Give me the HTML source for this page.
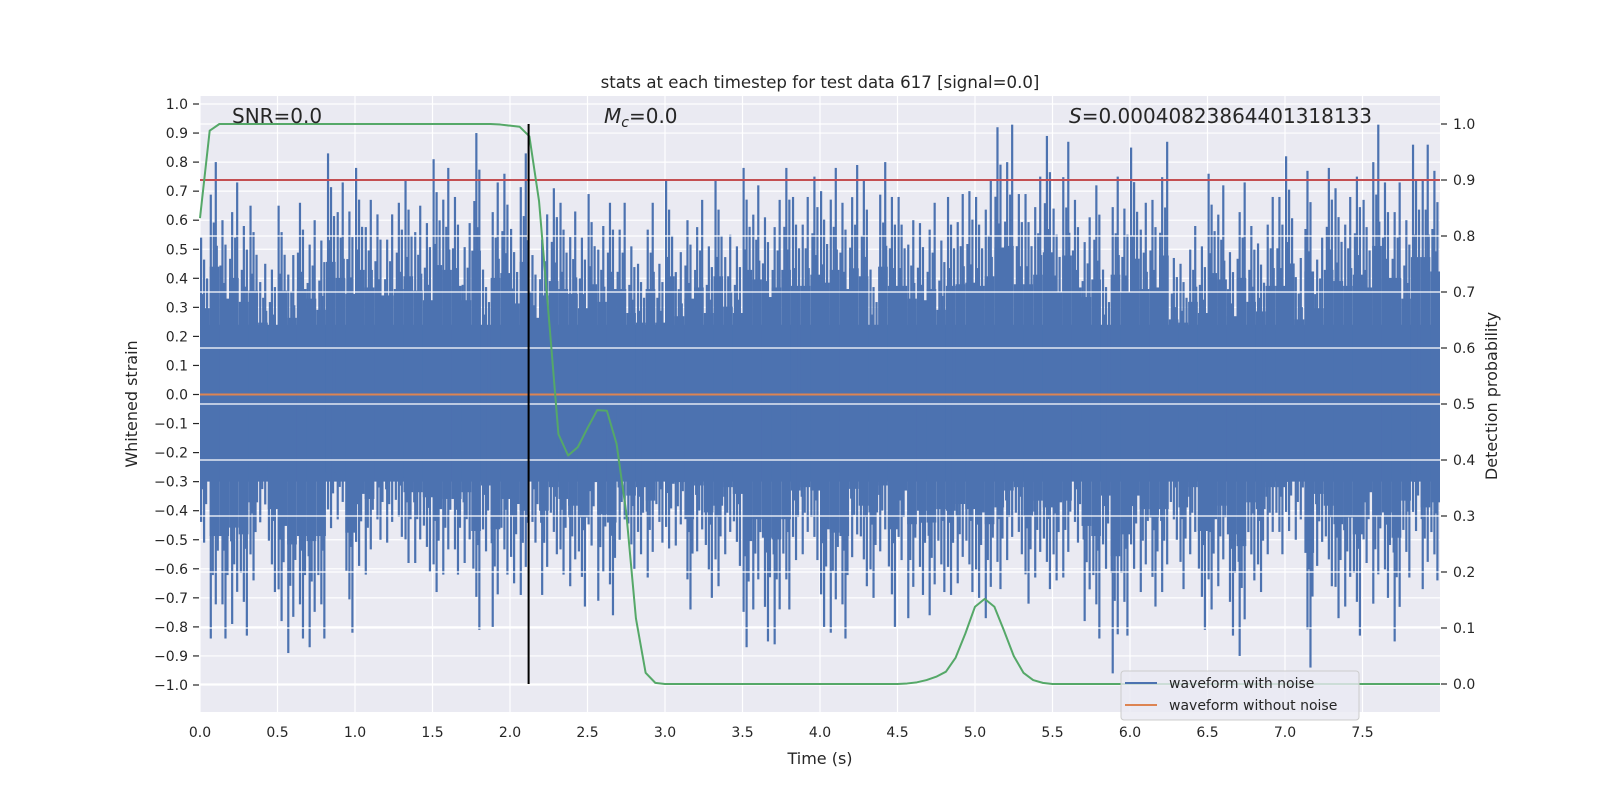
<!DOCTYPE html>
<html><head><meta charset="utf-8"><style>
html,body{margin:0;padding:0;background:#fff}
svg{display:block;font-family:"DejaVu Sans","Liberation Sans",sans-serif}
</style></head><body>
<svg id="chart" width="1600" height="800" viewBox="0 0 1600 800" xmlns="http://www.w3.org/2000/svg">
<rect x="0" y="0" width="1600" height="800" fill="#ffffff"/>
<rect x="200" y="96" width="1240" height="616" fill="#eaeaf2"/>
<g id="leftGrid"></g>
<g id="noise"></g>
<g id="clean"></g>
<g id="rightGrid"></g>
<g id="overlay"></g>
<g id="axes"></g>
<text x="820" y="88" text-anchor="middle" font-size="16.6" fill="#262626">stats at each timestep for test data 617 [signal=0.0]</text>
<text x="232" y="123" font-size="20" fill="#262626">SNR=0.0</text>
<text x="604" y="123" font-size="20" fill="#262626"><tspan font-style="italic">M</tspan><tspan font-style="italic" font-size="14" dy="4">c</tspan><tspan dy="-4">=0.0</tspan></text>
<text x="1069" y="123" font-size="20" fill="#262626"><tspan font-style="italic">S</tspan>=0.00040823864401318133</text>
<text x="820" y="764" text-anchor="middle" font-size="16" fill="#262626">Time (s)</text>
<text transform="translate(137,404) rotate(-90)" text-anchor="middle" font-size="16" fill="#262626">Whitened strain</text>
<text transform="translate(1497,396) rotate(-90)" text-anchor="middle" font-size="16" fill="#262626">Detection probability</text>
<g>
<rect x="1121" y="671" width="238" height="49" rx="3" fill="#eaeaf2" fill-opacity="0.8" stroke="#cccccc" stroke-width="1"/>
<line x1="1125" y1="683" x2="1157" y2="683" stroke="#4c72b0" stroke-width="2"/>
<text x="1169" y="688" font-size="14" fill="#262626">waveform with noise</text>
<line x1="1125" y1="705" x2="1157" y2="705" stroke="#dd8452" stroke-width="2"/>
<text x="1169" y="710" font-size="14" fill="#262626">waveform without noise</text>
</g>
</svg>
<script>
const binStep = 0.0625;
const upperPeaks = [.54,.80,.60,.73,.58,.65,.45,.43,.65,.48,.66,.60,.53,.83,.73,.63,.78,.67,.62,.62,.66,.74,.65,.59,.81,.78,.68,.59,.90,.43,.73,.76,.57,
.83,.48,.62,.71,.66,.63,.54,.69,.58,.66,.66,.51,.45,.66,.45,.74,.49,.60,.67,.51,.74,.55,.51,.78,.72,.61,.67,.78,.68,.68,.75,.70,
.78,.66,.79,.74,.43,.80,.68,.68,.60,.59,.66,.53,.68,.69,.70,.68,.74,.92,.93,.69,.69,.75,.89,.64,.87,.67,.61,.72,.43,.75,.64,.85,
.66,.67,.87,.47,.45,.58,.51,.76,.72,.49,.73,.58,.52,.68,.68,.82,.47,.77,.54,.78,.71,.68,.75,.67,.93,.73,.73,.60,.86,.86,.77];
const lowerPeaks = [-.51,-.84,-.84,-.79,-.83,-.64,-.44,-.68,-.78,-.89,-.84,-.87,-.84,-.46,-.43,-.82,-.59,-.62,-.50,-.51,-.49,-.58,-.58,-.61,-.68,-.62,-.62,-.58,-.81,-.54,-.80,-.62,-.65,
-.69,-.51,-.69,-.55,-.62,-.66,-.73,-.52,-.71,-.76,-.50,-.60,-.55,-.63,-.51,-.53,-.52,-.74,-.54,-.70,-.66,-.55,-.59,-.87,-.74,-.85,-.86,-.74,-.57,-.55,-.57,-.80,
-.82,-.84,-.56,-.66,-.70,-.54,-.80,-.57,-.77,-.69,-.76,-.68,-.69,-.65,-.68,-.70,-.77,-.67,-.57,-.55,-.72,-.63,-.67,-.64,-.63,-.51,-.78,-.84,-.60,-.96,-.83,-.60,
-.68,-.73,-.68,-.50,-.67,-.55,-.81,-.74,-.66,-.83,-.90,-.64,-.68,-.55,-.55,-.47,-.50,-.94,-.59,-.66,-.77,-.73,-.83,-.58,-.72,-.70,-.85,-.63,-.47,-.67,-.64];
const bodyTop = 0.24, bodyBottom = -0.30;
const detectionProb = [.832,.988,1,1,1,1,1,1,1,1,1,1,1,1,1,1,1,1,1,1,1,1,1,1,1,1,1,1,1,1,1,.999,.997,.995,.978,.862,.657,.446,.408,.423,.457,.489,.488,.429,.306,.117,.02,.002,
0,0,0,0,0,0,0,0,0,0,0,0,0,0,0,0,0,0,0,0,0,0,0,0,
0,.001,.003,.007,.013,.022,.047,.09,.138,.152,.138,.095,.05,.02,.007,.002,
0,0,0,0,0,0,0,0,0,0,0,0,0,0,0,0,0,0,0,0,0,0,0,0,0,0,0,0,0,0,0,0,0,0,0,0,0,0,0,0,0];
const threshold = 0.9;
const triggerTime = 2.12;
const xTicks = ["0.0","0.5","1.0","1.5","2.0","2.5","3.0","3.5","4.0","4.5","5.0","5.5","6.0","6.5","7.0","7.5"];
const leftTicks = ["1.0","0.9","0.8","0.7","0.6","0.5","0.4","0.3","0.2","0.1","0.0","\u22120.1","\u22120.2","\u22120.3","\u22120.4","\u22120.5","\u22120.6","\u22120.7","\u22120.8","\u22120.9","\u22121.0"];
const rightTicks = ["0.0","0.1","0.2","0.3","0.4","0.5","0.6","0.7","0.8","0.9","1.0"];

const NS = "http://www.w3.org/2000/svg";
const X = t => 200 + (t / 8) * 1240;
const YL = v => 394.5 - 290.5 * v;
const YR = p => 684 - 560 * p;
function mk(tag, attrs, parent) {
  const e = document.createElementNS(NS, tag);
  for (const k in attrs) e.setAttribute(k, attrs[k]);
  parent.appendChild(e);
  return e;
}
const leftGrid = document.getElementById('leftGrid');
const noise = document.getElementById('noise');
const clean = document.getElementById('clean');
const rightGrid = document.getElementById('rightGrid');
const overlay = document.getElementById('overlay');
const axes = document.getElementById('axes');

leftTicks.forEach(s => {
  const v = parseFloat(s.replace('\u2212', '-'));
  const y = YL(v);
  const g = mk('line', {x1:200, x2:1440, y1:y, y2:y, stroke:'#fff', 'stroke-width':1.2}, leftGrid);
  
  
  const tk = mk('line', {x1:193, x2:199, y1:y, y2:y, stroke:'#262626', 'stroke-width':1.2}, axes);
  
  
  const tx = mk('text', {x:188, y:y + 5, 'text-anchor':'end', 'font-size':14, fill:'#262626'}, axes);
  tx.textContent = s;
  
  
});
xTicks.forEach(s => {
  const x = X(parseFloat(s));
  const g = mk('line', {x1:x, x2:x, y1:96, y2:712, stroke:'#fff', 'stroke-width':1.2}, leftGrid);
  
  
  const tx = mk('text', {x:x, y:737, 'text-anchor':'middle', 'font-size':14, fill:'#262626'}, axes);
  tx.textContent = s;
  
  
});

const bw = X(binStep) - X(0);
const body = mk('rect', {x:200, y:YL(bodyTop), width:1240, height:YL(bodyBottom) - YL(bodyTop), fill:'#4c72b0'}, noise);


const spikeFracs = [1, 0.86, 0.74, 0.64];
upperPeaks.forEach((up, i) => {
  const lo = lowerPeaks[i];
  const x0 = X(i * binStep);
  const r = mk('rect', {x:x0, y:YL(up * 0.55), width:bw, height:YL(lo * 0.58) - YL(up * 0.55), fill:'#4c72b0'}, noise);
  
  
  spikeFracs.forEach((f, j) => {
    const ou = (i * 37 + j * 3) % 8, od = (i * 53 + j * 5 + 3) % 8;
    const su = mk('rect', {x:x0 + ou, y:YL(up * f), width:2.2, height:YL(0) - YL(up * f), fill:'#4c72b0'}, noise);
    
    
    const sd = mk('rect', {x:x0 + od, y:YL(0), width:2.2, height:YL(lo * f) - YL(0), fill:'#4c72b0'}, noise);
    
    
  });
});
const cl = mk('line', {x1:200, x2:1440, y1:YL(0), y2:YL(0), stroke:'#dd8452', 'stroke-width':2}, clean);



rightTicks.forEach(s => {
  const p = parseFloat(s);
  const y = YR(p);
  const g = mk('line', {x1:200, x2:1440, y1:y, y2:y, stroke:'#fff', 'stroke-width':1.2}, rightGrid);
  
  
  const tk = mk('line', {x1:1441, x2:1447, y1:y, y2:y, stroke:'#262626', 'stroke-width':1.2}, axes);
  
  
  const tx = mk('text', {x:1453, y:y + 5, 'font-size':14, fill:'#262626'}, axes);
  tx.textContent = s;
  
  
});

const red = mk('line', {x1:200, x2:1440, y1:YR(threshold), y2:YR(threshold), stroke:'#c44e52', 'stroke-width':2}, overlay);


const pts = detectionProb.map((p, i) => X(i * binStep).toFixed(2) + ',' + YR(p).toFixed(2)).join(' ');
const gl = mk('polyline', {points:pts, fill:'none', stroke:'#55a868', 'stroke-width':2, 'stroke-linejoin':'round'}, overlay);


const vl = mk('line', {x1:X(triggerTime), x2:X(triggerTime), y1:YR(1), y2:YR(0), stroke:'#000', 'stroke-width':2}, overlay);


</script>
</body></html>
